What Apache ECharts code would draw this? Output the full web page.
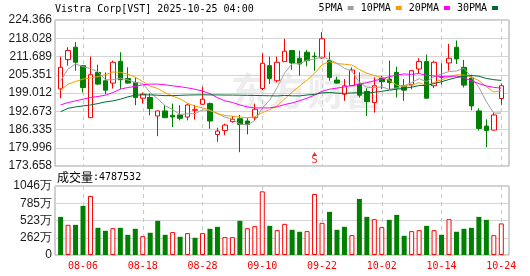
<!DOCTYPE html>
<html>
<head>
<meta charset="utf-8">
<script src="https://cdn.jsdelivr.net/npm/echarts@6/dist/echarts.min.js"></script>
<style>html,body{margin:0;padding:0;background:#fff}#c{width:530px;height:276px}</style>
</head>
<body>
<div id="c"></div>
<script>
const titleText = 'Vistra Corp[VST] 2025-10-25 04:00';
const dates = ['08-01','08-04','08-05','08-06','08-07','08-08','08-11','08-12','08-13','08-14','08-15','08-18','08-19','08-20','08-21','08-22','08-25','08-26','08-27','08-28','08-29','09-02','09-03','09-04','09-05','09-08','09-09','09-10','09-11','09-12','09-15','09-16','09-17','09-18','09-19','09-22','09-23','09-24','09-25','09-26','09-29','09-30','10-01','10-02','10-03','10-06','10-07','10-08','10-09','10-10','10-13','10-14','10-15','10-16','10-17','10-20','10-21','10-22','10-23','10-24'];
const labelDates = ['08-06','08-18','08-28','09-10','09-22','10-02','10-14','10-24'];
const opens  = [200.47,210.61,214.92,208.51,190.44,206.18,203.27,202.45,210.03,204.08,202.68,197.20,197.44,191.03,192.78,191.26,191.38,190.68,193.00,195.10,195.34,184.62,186.01,189.05,190.09,189.28,190.44,200.58,208.51,203.27,209.91,213.76,211.08,213.18,211.80,211.19,210.26,203.50,198.60,201.52,202.10,199.54,195.69,204.20,203.85,206.18,201.52,201.87,207.35,209.91,201.52,204.70,209.45,214.92,207.93,204.20,192.78,187.53,186.13,197.09];
const closes = [207.93,213.76,209.68,200.93,205.36,202.10,200.00,209.68,203.62,202.45,197.44,198.60,193.59,192.78,190.44,190.68,190.21,194.87,193.20,196.86,189.28,185.78,187.88,189.86,188.11,188.11,193.36,209.33,204.08,209.68,213.53,209.45,209.10,210.26,211.60,217.84,204.43,202.45,201.52,207.00,198.25,196.04,201.52,202.92,202.68,200.70,200.00,206.76,209.91,197.20,209.68,204.50,211.08,210.84,201.75,194.52,186.71,186.01,191.38,201.52];
const lows   = [197.20,208.51,206.76,199.19,190.30,201.75,198.60,200.58,200.35,202.30,194.76,195.34,191.26,184.03,190.30,187.18,189.51,189.51,189.80,194.87,186.60,182.05,184.38,188.70,178.44,184.62,189.51,200.00,202.10,202.68,209.80,207.11,205.01,208.28,206.76,210.90,203.27,202.30,196.27,201.40,197.44,191.03,192.19,200.35,200.35,197.44,196.27,200.35,205.83,197.10,200.70,201.90,206.76,209.10,200.93,193.00,186.01,180.19,186.00,194.87];
const highs  = [211.66,214.92,216.67,208.70,211.66,208.86,206.18,210.26,213.18,207.93,204.43,199.19,198.84,192.90,194.87,195.34,194.76,195.34,194.90,201.17,195.70,186.95,188.35,191.03,191.38,190.44,195.34,212.83,211.66,211.66,217.84,213.90,213.76,213.99,213.18,220.17,213.18,204.67,203.85,207.93,206.18,200.70,204.43,205.01,210.26,208.16,203.85,206.90,211.08,212.36,210.26,209.30,216.09,217.25,210.49,205.36,193.71,189.86,192.19,202.33];
const ma5  = [203.27,207.35,209.10,208.16,207.53,206.37,203.61,203.61,204.15,203.57,202.64,202.36,199.14,196.97,194.57,193.22,191.54,191.80,191.88,193.16,192.88,192.00,190.60,189.93,188.18,187.95,189.46,193.75,196.60,200.91,206.00,209.21,209.17,210.40,210.79,211.65,210.65,209.32,207.57,206.65,202.73,201.05,200.87,201.15,200.28,200.77,201.56,202.61,204.01,202.91,204.71,205.61,206.47,206.66,207.57,204.54,200.98,195.97,192.07,192.03];
const ma10 = [200.00,202.10,203.00,203.85,204.20,204.70,205.36,206.30,206.20,205.55,204.50,202.99,201.38,200.56,199.07,197.93,196.95,195.47,194.43,193.87,193.05,191.77,191.20,190.91,190.67,190.42,190.73,192.18,193.27,194.55,196.97,199.34,201.46,203.50,205.85,208.82,209.93,209.24,208.99,208.72,207.19,205.85,205.09,204.36,203.47,201.75,201.31,201.74,202.58,201.60,202.74,203.59,204.54,205.34,205.24,204.62,203.30,201.22,199.37,199.80];
const ma20 = [194.87,195.70,196.27,196.86,197.44,197.80,198.25,199.18,200.35,200.93,201.30,201.87,202.10,202.10,201.87,201.50,201.20,200.80,200.30,199.71,198.78,197.38,196.29,195.73,194.87,194.17,193.84,193.82,193.85,194.21,195.01,195.55,196.33,197.20,198.26,199.62,200.33,200.71,201.13,201.63,202.08,202.59,203.28,203.93,204.66,205.29,205.62,205.49,205.78,205.16,204.97,204.72,204.82,204.85,204.35,203.19,202.30,201.48,200.97,200.70];
const ma30 = [192.54,193.70,194.17,194.52,194.87,195.34,195.92,196.27,196.86,197.67,198.25,198.37,198.37,198.25,198.10,198.10,198.20,198.30,198.35,198.40,198.35,198.35,198.30,198.30,198.25,198.20,198.15,198.10,198.05,197.99,198.18,198.03,198.01,198.32,198.53,199.06,199.20,198.96,198.89,199.04,199.07,198.99,199.25,199.59,200.00,200.33,200.66,201.05,201.61,201.62,202.30,202.93,203.70,204.40,204.85,205.07,204.84,204.07,203.64,203.37];
const volumes = [5780000,4570000,4570000,7440000,8950000,4120000,3670000,4070000,4120000,3060000,3970000,2860000,3370000,5180000,3060000,3470000,2760000,3320000,2610000,3320000,3970000,4270000,2710000,2710000,5180000,4070000,4370000,9650000,4420000,3770000,4720000,3820000,3520000,3620000,9250000,4880000,6540000,3820000,4270000,3010000,8500000,5780000,5430000,4220000,5330000,6080000,2910000,3620000,3770000,4420000,3770000,3060000,5430000,3520000,3970000,4120000,5780000,5330000,3010000,4787532];
const volDir = [-1,1,-1,-1,1,-1,-1,1,-1,-1,-1,1,-1,-1,-1,1,-1,1,-1,1,-1,-1,1,1,-1,1,1,1,-1,1,1,-1,-1,1,1,1,-1,-1,-1,1,-1,-1,1,1,-1,-1,-1,1,1,-1,1,-1,1,-1,-1,-1,-1,-1,1,1];
const priceTicks = ['173.658','179.996','186.335','192.673','199.012','205.351','211.689','218.028','224.366'];
const volTicks = ['0','262万','523万','785万','1046万'];
const priceMin = 173.658, priceMax = 224.366;
const volMax = 10460000;
const signals = [{date: '09-19', text: 'S'}];
const maNames = ['5PMA','10PMA','20PMA','30PMA'];
const maColors = ['#a0a0a0','#f5a000','#ff00ff','#006a32'];

const RED = '#ff0000', GREEN = '#008000';
const MONO = 'DejaVu Sans Mono';
const chart = echarts.init(document.getElementById('c'));

const candleData = dates.map((d, i) => [opens[i], closes[i], lows[i], highs[i]]);
const volData = volumes.map((v, i) => ({
  value: v,
  itemStyle: volDir[i] > 0 ? {color: '#ffffff', borderColor: RED, borderWidth: 1} : {color: GREEN, borderColor: GREEN, borderWidth: 0}
}));
const showLabel = (idx) => labelDates.indexOf(dates[idx]) >= 0;
const frameL = 55, frameW = 454, dataL = 60.6, dataR = 28.7;

const maSeries = [ma5, ma10, ma20, ma30].map((arr, k) => ({
  name: maNames[k], type: 'line', xAxisIndex: 1, yAxisIndex: 1, data: arr,
  showSymbol: false, symbol: 'none', smooth: false, clip: false, z: 5,
  lineStyle: {width: 1, color: maColors[k]}, itemStyle: {color: maColors[k]}
}));

const option = {
  animation: false,
  backgroundColor: '#ffffff',
  title: [
    {text: titleText, left: 55, top: 4, padding: 0,
     textStyle: {fontFamily: MONO, fontSize: 10, fontWeight: 'normal', color: '#000'}},
    {text: '{a|成交量}{b|:' + volumes[volumes.length - 1] + '}', left: 57, top: 171, padding: 0,
     textStyle: {fontWeight: 'normal',
                 rich: {a: {fontFamily: 'Noto Sans CJK SC', fontSize: 12, fontWeight: 'normal', color: '#000'},
                        b: {fontFamily: MONO, fontSize: 10, fontWeight: 'normal', color: '#000'}}}}
  ],
  legend: {
    data: maNames, right: 32, top: 3, padding: 0, align: 'right', icon: 'rect',
    itemWidth: 6, itemHeight: 4, itemGap: 7, selectedMode: false,
    textStyle: {fontFamily: MONO, fontSize: 10, color: '#000'}
  },
  graphic: [
    {type: 'text', left: 231, top: 72, z: -1, silent: true,
     style: {text: '东方财富', fontFamily: 'Noto Sans CJK SC', fontWeight: 'bold', fontSize: 38, fill: 'rgba(0,0,0,0.07)'}}
  ],
  grid: [
    {left: frameL, top: 20, width: frameW, height: 146, show: true, borderColor: '#a0a0a0', borderWidth: 1, backgroundColor: 'transparent'},
    {left: dataL, right: dataR, top: 20, height: 146},
    {left: frameL, top: 186, width: frameW, height: 69, show: true, borderColor: '#a0a0a0', borderWidth: 1, backgroundColor: 'transparent'},
    {left: dataL, right: dataR, top: 186, height: 69}
  ],
  xAxis: [
    {type: 'value', gridIndex: 0, min: 0, max: 1, show: false},
    {type: 'category', gridIndex: 1, data: dates, boundaryGap: false,
     axisLine: {show: false}, axisTick: {show: false}, axisLabel: {show: false},
     splitLine: {show: true, interval: showLabel, lineStyle: {color: '#c8c8c8', type: [4, 4], width: 1}}},
    {type: 'value', gridIndex: 2, min: 0, max: 1, show: false},
    {type: 'category', gridIndex: 3, data: dates, boundaryGap: false,
     axisLine: {show: false}, axisTick: {show: false},
     axisLabel: {show: true, interval: showLabel, color: RED, fontFamily: MONO, fontSize: 10, margin: 6},
     splitLine: {show: true, interval: showLabel, lineStyle: {color: '#c8c8c8', type: [4, 4], width: 1}}}
  ],
  yAxis: [
    {type: 'value', gridIndex: 0, min: 0, max: priceTicks.length - 1, interval: 1,
     axisLine: {show: false}, axisTick: {show: false},
     axisLabel: {formatter: (v) => priceTicks[Math.round(v)], fontFamily: 'Liberation Sans', fontSize: 12, color: '#1a1a1a', margin: 3},
     splitLine: {show: true, lineStyle: {color: '#d4d4d4', width: 1}}},
    {type: 'value', gridIndex: 1, min: priceMin, max: priceMax, show: false, splitLine: {show: false}},
    {type: 'value', gridIndex: 2, min: 0, max: volTicks.length - 1, interval: 1,
     axisLine: {show: false}, axisTick: {show: false},
     axisLabel: {formatter: (v) => volTicks[Math.round(v)], fontFamily: 'Liberation Sans', fontSize: 12, color: '#1a1a1a', margin: 3},
     splitLine: {show: true, lineStyle: {color: '#d4d4d4', width: 1}}},
    {type: 'value', gridIndex: 3, min: 0, max: volMax, show: false, splitLine: {show: false}}
  ],
  series: [
    {type: 'candlestick', xAxisIndex: 1, yAxisIndex: 1, data: candleData, barWidth: 5, clip: false, z: 3,
     itemStyle: {color: '#ffffff', color0: GREEN, borderColor: RED, borderColor0: GREEN, borderWidth: 1}},
    ...maSeries,
    {type: 'scatter', xAxisIndex: 1, yAxisIndex: 1, z: 6, clip: false, silent: true,
     data: signals.map(s => [s.date, priceMin]),
     symbol: 'triangle', symbolSize: [5, 4], symbolOffset: [0, -12], itemStyle: {color: RED}},
    {type: 'scatter', xAxisIndex: 1, yAxisIndex: 1, z: 6, clip: false, silent: true,
     data: signals.map(s => ({value: [s.date, priceMin], name: s.text})),
     symbol: 'circle', symbolSize: 0,
     label: {show: true, position: 'inside', offset: [0, -6], formatter: (p) => p.name, color: RED, fontFamily: MONO, fontSize: 11}},
    {type: 'bar', xAxisIndex: 3, yAxisIndex: 3, data: volData, barWidth: 5, clip: false, z: 3}
  ]
};
chart.setOption(option);
</script>
</body>
</html>
